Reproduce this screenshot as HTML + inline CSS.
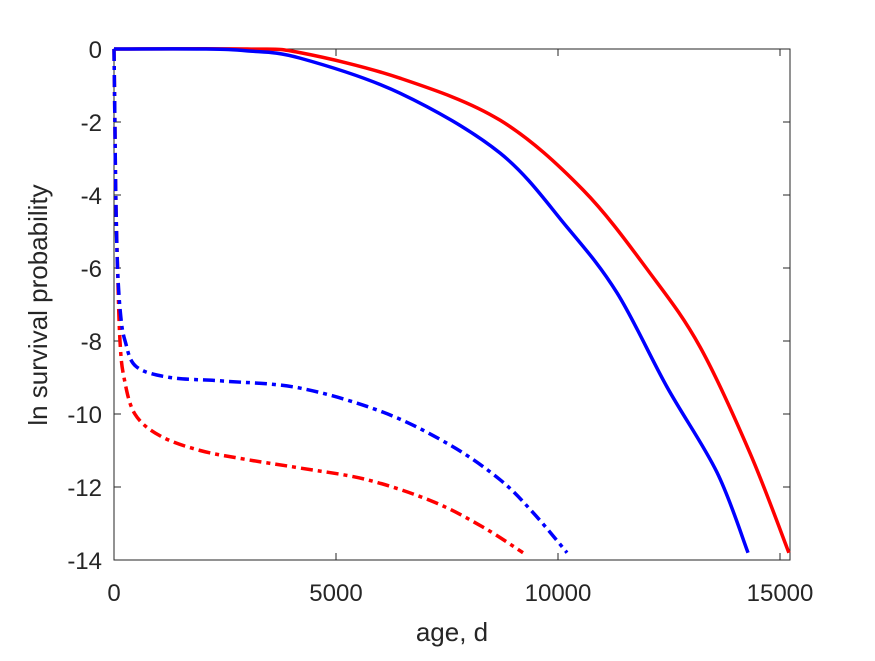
<!DOCTYPE html>
<html><head><meta charset="utf-8"><style>
body{margin:0;background:#fff;}
svg{font-family:"Liberation Sans",Arial,sans-serif;}
</style></head><body>
<svg id="c" width="875" height="656"></svg>
<script>
const xTicks=[0,5000,10000,15000];
const yTicks=[0,-2,-4,-6,-8,-10,-12,-14];
const blueSolidT=[0,2000,3000,4189,6441,8694,10203,11329,12455,13581,14280];
const blueSolidY=[0,0,-0.05,-0.25,-1.21,-2.85,-4.88,-6.68,-9.26,-11.6,-13.8];
const redSolidT=[0,3000,4189,6441,8694,10563,12072,13198,14324,15200];
const redSolidY=[0,0,-0.1,-0.8,-1.95,-3.86,-6.14,-8.16,-11.07,-13.8];
const blueDashT=[0,10,20,40,80,150,250,500,1260,2500,4189,6058,7568,8694,9437,10203];
const blueDashY=[0,-1,-2,-4,-6,-7.3,-8,-8.7,-9,-9.1,-9.29,-9.95,-10.85,-11.8,-12.7,-13.8];
const redDashT=[0,10,20,40,80,135,225,470,1040,1940,3000,4189,5698,7185,8311,9212];
const redDashY=[0,-1,-2,-4,-6,-8,-9,-10,-10.6,-11,-11.25,-11.48,-11.8,-12.4,-13.1,-13.8];
const L=114,R=790,T=49,B=560,XMAX=15225;
const X=t=>L+t/XMAX*(R-L), Y=v=>T+(-v)/14*(B-T);
const svg=document.getElementById('c');const NS='http://www.w3.org/2000/svg';
function mk(tag,attrs,parent){const e=document.createElementNS(NS,tag);for(const k in attrs)e.setAttribute(k,attrs[k]);(parent||svg).appendChild(e);return e;}
function path(ts,vs){const p=ts.map((t,i)=>[X(t),Y(vs[i])]);let d='M'+p[0][0]+','+p[0][1];
for(let i=0;i<p.length-1;i++){const p0=p[Math.max(0,i-1)],p1=p[i],p2=p[i+1],p3=p[Math.min(p.length-1,i+2)];
const c1=[p1[0]+(p2[0]-p0[0])/6,p1[1]+(p2[1]-p0[1])/6],c2=[p2[0]-(p3[0]-p1[0])/6,p2[1]-(p3[1]-p1[1])/6];
d+=' C'+c1+' '+c2+' '+p2;}return d;}
const ax=mk('g',{});

const box=mk('rect',{x:L,y:T,width:R-L,height:B-T,fill:'none',stroke:'#262626','stroke-width':1},ax);

xTicks.forEach(t=>{const x=X(t);
mk('line',{x1:x,x2:x,y1:B,y2:B-7,stroke:'#262626'},ax);mk('line',{x1:x,x2:x,y1:T,y2:T+7,stroke:'#262626'},ax);
const tx=mk('text',{x:x,y:601,'text-anchor':'middle','font-size':24,fill:'#262626'},ax);tx.textContent=t;
});
yTicks.forEach(v=>{const y=Y(v);
mk('line',{x1:L,x2:L+7,y1:y,y2:y,stroke:'#262626'},ax);mk('line',{x1:R,x2:R-7,y1:y,y2:y,stroke:'#262626'},ax);
const tx=mk('text',{x:102,y:y+9,'text-anchor':'end','font-size':24,fill:'#262626'},ax);tx.textContent=v;
});
const xl=mk('text',{x:452,y:641,'text-anchor':'middle','font-size':26,fill:'#262626'});xl.textContent='age, d';

const yl=mk('text',{x:0,y:0,transform:'translate(47,305) rotate(-90)','text-anchor':'middle','font-size':26,fill:'#262626'});yl.textContent='ln survival probability';

const series=[[redDashT,redDashY,'#ff0000',true,'red-dashdot-line'],[blueDashT,blueDashY,'#0000ff',true,'blue-dashdot-line'],[redSolidT,redSolidY,'#ff0000',false,'red-solid-line'],[blueSolidT,blueSolidY,'#0000ff',false,'blue-solid-line']];
series.forEach(s=>{const a={d:path(s[0],s[1]),fill:'none',stroke:s[2],'stroke-width':3.5};if(s[3])a['stroke-dasharray']='12 5 4 5';
const e=mk('path',a);});
</script>
</body></html>
